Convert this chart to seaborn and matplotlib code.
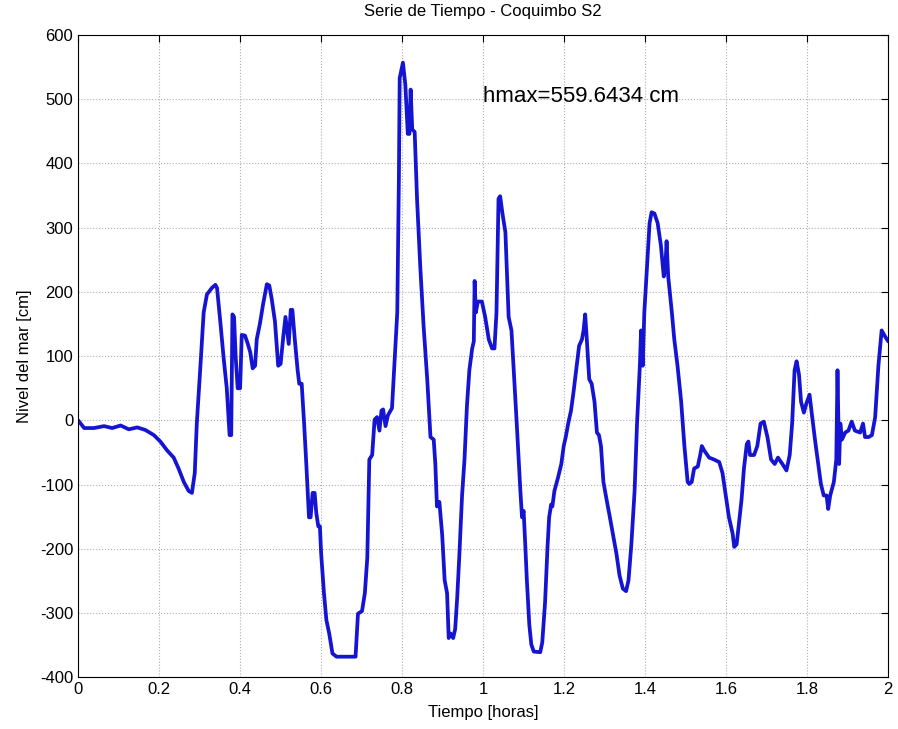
import numpy as np
import pandas as pd
import matplotlib
matplotlib.use("Agg")
import matplotlib.pyplot as plt
import seaborn as sns

# Tiempo [horas] y nivel del mar [cm]
tiempo = [0.0, 0.015, 0.039, 0.064, 0.084, 0.105, 0.125, 0.146, 0.166, 0.187,
          0.203, 0.22, 0.236, 0.248, 0.261, 0.273, 0.281, 0.288, 0.293, 0.302,
          0.31, 0.318, 0.33, 0.339, 0.343, 0.351, 0.359, 0.367, 0.374, 0.378,
          0.381, 0.385, 0.389, 0.394, 0.4, 0.404, 0.412, 0.419, 0.425, 0.431,
          0.437, 0.441, 0.449, 0.457, 0.466, 0.472, 0.478, 0.486, 0.494, 0.5,
          0.507, 0.512, 0.516, 0.52, 0.525, 0.529, 0.535, 0.542, 0.546, 0.552,
          0.558, 0.564, 0.57, 0.574, 0.579, 0.584, 0.588, 0.593, 0.597, 0.6,
          0.607, 0.613, 0.62, 0.628, 0.638, 0.662, 0.685, 0.691, 0.701, 0.708,
          0.714, 0.719, 0.726, 0.732, 0.738, 0.744, 0.749, 0.753, 0.759, 0.765,
          0.775, 0.782, 0.788, 0.792, 0.794, 0.802, 0.808, 0.814, 0.818, 0.821,
          0.825, 0.831, 0.837, 0.845, 0.853, 0.862, 0.87, 0.878, 0.882, 0.886,
          0.892, 0.899, 0.905, 0.911, 0.915, 0.92, 0.926, 0.931, 0.936, 0.941,
          0.948, 0.954, 0.96, 0.966, 0.973, 0.977, 0.979, 0.982, 0.987, 0.997,
          1.005, 1.014, 1.022, 1.028, 1.033, 1.038, 1.042, 1.048, 1.055, 1.063,
          1.07, 1.075, 1.083, 1.092, 1.096, 1.1, 1.104, 1.108, 1.114, 1.119,
          1.125, 1.141, 1.146, 1.153, 1.159, 1.163, 1.168, 1.171, 1.176, 1.185,
          1.193, 1.199, 1.204, 1.211, 1.217, 1.223, 1.231, 1.237, 1.244, 1.248,
          1.252, 1.256, 1.262, 1.268, 1.275, 1.281, 1.286, 1.291, 1.297, 1.305,
          1.313, 1.321, 1.329, 1.337, 1.345, 1.353, 1.359, 1.366, 1.374, 1.38,
          1.387, 1.39, 1.394, 1.398, 1.405, 1.411, 1.416, 1.423, 1.431, 1.439,
          1.446, 1.45, 1.453, 1.457, 1.466, 1.472, 1.48, 1.489, 1.497, 1.505,
          1.509, 1.515, 1.521, 1.53, 1.536, 1.54, 1.546, 1.558, 1.57, 1.583,
          1.591, 1.599, 1.607, 1.616, 1.62, 1.626, 1.632, 1.638, 1.644, 1.651,
          1.655, 1.659, 1.669, 1.677, 1.685, 1.693, 1.702, 1.711, 1.72, 1.728,
          1.739, 1.749, 1.757, 1.763, 1.769, 1.774, 1.78, 1.785, 1.792, 1.798,
          1.806, 1.812, 1.82, 1.829, 1.834, 1.841, 1.848, 1.852, 1.857, 1.866,
          1.872, 1.875, 1.879, 1.882, 1.886, 1.894, 1.902, 1.91, 1.918, 1.931,
          1.938, 1.943, 1.952, 1.96, 1.968, 1.976, 1.984, 1.993, 2.0]
nivel = [0, -12, -12, -9, -12, -8, -14, -11, -15, -23,
         -33, -47, -58, -75, -96, -110, -113, -82, -5, 85,
         168, 196, 206, 211, 206, 154, 99, 50, -23, -23,
         165, 161, 99, 50, 50, 133, 132, 119, 106, 81,
         85, 126, 151, 182, 212, 210, 189, 154, 85, 88,
         133, 161, 140, 119, 172, 172, 126, 78, 57, 57,
         -5, -75, -151, -151, -113, -113, -144, -165, -165, -207,
         -269, -311, -332, -363, -368, -368, -368, -301, -297, -269,
         -214, -61, -54, 1, 5, -16, 15, 17, -9, 8,
         19, 99, 168, 376, 533, 557, 522, 446, 446, 515,
         453, 449, 342, 237, 147, 64, -26, -30, -68, -134,
         -127, -179, -249, -269, -339, -332, -339, -325, -276, -214,
         -117, -61, 22, 78, 112, 123, 217, 168, 185, 185,
         161, 126, 112, 112, 168, 345, 349, 321, 293, 161,
         140, 85, -5, -110, -151, -141, -193, -249, -318, -349,
         -360, -361, -346, -283, -197, -151, -131, -134, -110, -89,
         -68, -40, -26, -2, 15, 43, 85, 116, 126, 140,
         165, 126, 64, 57, 29, -19, -23, -40, -96, -124,
         -151, -179, -207, -242, -262, -266, -249, -193, -110, -5,
         85, 140, 85, 168, 244, 307, 324, 322, 307, 272,
         224, 238, 279, 224, 168, 126, 85, 29, -40, -96,
         -99, -96, -75, -72, -54, -40, -47, -58, -61, -65,
         -82, -117, -151, -176, -197, -193, -158, -124, -75, -37,
         -33, -54, -54, -40, -5, -2, -26, -61, -68, -58,
         -68, -78, -54, -5, 78, 92, 71, 29, 12, 26,
         40, 8, -33, -75, -99, -117, -117, -138, -117, -96,
         -61, 78, -68, -5, -30, -19, -16, -2, -16, -19,
         -5, -26, -26, -23, 5, 85, 140, 130, 123]

df = pd.DataFrame({"tiempo": tiempo, "nivel": nivel})

sns.set_style("white")
plt.rcParams["font.family"] = ["Liberation Sans", "DejaVu Sans"]
plt.rcParams["axes.unicode_minus"] = False
plt.rcParams["text.color"] = "black"
plt.rcParams["axes.labelcolor"] = "black"
plt.rcParams["xtick.color"] = "black"
plt.rcParams["ytick.color"] = "black"

fig = plt.figure(figsize=(8.98, 7.29), dpi=100)
ax = fig.add_axes([0.087, 0.071, 0.902, 0.881])

sns.lineplot(data=df, x="tiempo", y="nivel", sort=False, estimator=None,
             color="#1414d2", linewidth=2.7, ax=ax)

ax.set_xlim(0, 2)
ax.set_ylim(-400, 600)
ax.set_xticks(np.arange(0, 2.01, 0.2))
ax.set_xticklabels(["0", "0.2", "0.4", "0.6", "0.8", "1", "1.2", "1.4", "1.6", "1.8", "2"])
ax.set_yticks(np.arange(-400, 601, 100))
ax.grid(True, linestyle=":", color="#b0b0b0", linewidth=0.8)
ax.tick_params(direction="in", top=True, right=True, labelsize=12, length=5)
for s in ax.spines.values():
    s.set_color("black")
    s.set_linewidth(0.8)

ax.set_xlabel("Tiempo [horas]", fontsize=12, labelpad=6)
ax.set_ylabel("Nivel del mar [cm]", fontsize=12, labelpad=6)
ax.set_title("Serie de Tiempo - Coquimbo S2", fontsize=12, pad=14)
ax.text(1.0, 505, "hmax=559.6434 cm", fontsize=16, va="center", ha="left")

fig.savefig("out.png", dpi=100)
